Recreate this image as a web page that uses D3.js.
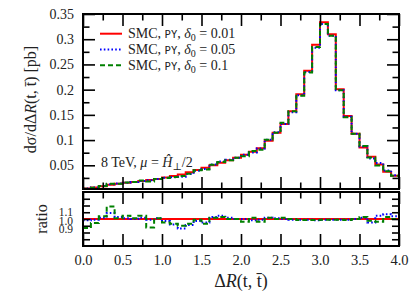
<!DOCTYPE html>
<html>
<head>
<meta charset="utf-8">
<script src="https://cdn.jsdelivr.net/npm/d3@7"></script>
<style>
  body { margin: 0; background: #fff; }
  text { font-family: "Liberation Serif", "DejaVu Serif", serif; fill: #222; }
</style>
</head>
<body>
<div id="chart"></div>
<script>
// bin edges 0.0 .. 4.0, width 0.1
var binLow = d3.range(40).map(function(i) { return i / 10; });

// SMC, PY, delta0 = 0.01 (reference) [pb]
var smc001 = [0.004, 0.006, 0.0087, 0.0113, 0.0133, 0.0153, 0.0167, 0.0187, 0.0206, 0.0226,
              0.026, 0.0286, 0.032, 0.036, 0.0405, 0.045, 0.050, 0.055, 0.060, 0.065,
              0.071, 0.077, 0.084, 0.0986, 0.1145, 0.1317, 0.157, 0.191, 0.2375, 0.289,
              0.3335, 0.310, 0.2006, 0.1476, 0.1125, 0.0855, 0.0669, 0.0518, 0.0371, 0.0292];

// ratios to delta0 = 0.01
var ratio005 = [0.98, 0.99, 1.02, 1.09, 1.03, 1.01, 1.00, 1.02, 0.99, 1.01,
                0.97, 0.92, 0.86, 0.91, 0.97, 0.95, 1.03, 1.05, 1.02, 1.00,
                1.00, 0.98, 0.99, 1.02, 1.01, 1.00, 0.99, 0.99, 0.99, 0.98,
                0.99, 0.99, 0.99, 0.99, 1.00, 1.02, 0.95, 1.05, 1.07, 1.04];
var ratio01 = [0.865, 0.94, 1.04, 1.185, 1.01, 1.05, 1.01, 1.05, 0.875, 1.01,
               0.95, 0.93, 0.90, 0.93, 0.99, 0.93, 1.02, 1.03, 1.00, 1.00,
               0.96, 1.02, 0.96, 1.02, 1.00, 1.02, 1.00, 0.985, 0.985, 0.985,
               0.99, 0.99, 0.99, 0.985, 1.00, 1.03, 0.975, 0.96, 1.03, 1.00];

var legendLabels = ["0.01", "0.05", "0.1"];
var colors = ["#ff0000", "#0000ff", "#008000"];
var dashes = [null, "1.6,2.2", "5,3"];

var xTickLabels = ["0.0", "0.5", "1.0", "1.5", "2.0", "2.5", "3.0", "3.5", "4.0"];
var yTickLabels = ["0.05", "0.1", "0.15", "0.2", "0.25", "0.3", "0.35"];
var rTickLabels = ["0.9", "1.0", "1.1"];

var W = 415, H = 303;
var left = 83, right = 399;
var mainTop = 14, mainBot = 189;
var ratTop = 192, ratBot = 246;

var series = [smc001, smc001.map(function(v, i) { return v * ratio005[i]; }),
              smc001.map(function(v, i) { return v * ratio01[i]; })];
var ratios = [binLow.map(function() { return 1; }), ratio005, ratio01];

var x = d3.scaleLinear().domain([0, 4]).range([left, right]);
var y = d3.scaleLinear().domain([0.003, 0.35]).range([mainBot, mainTop]);
var yr = d3.scaleLinear().domain([0.6, 1.4]).range([ratBot, ratTop]);
// tick labels of the ratio panel sit a little wider apart than the tick marks
var yrLab = d3.scaleLinear().domain([0.9, 1.1]).range([229.3, 212]);

var svg = d3.select("#chart").append("svg")
    .attr("width", W)
    .attr("height", H);

var defs = svg.append("defs");
defs.append("clipPath").attr("id", "clipMain")
  .append("rect").attr("x", left).attr("y", mainTop)
    .attr("width", right - left).attr("height", mainBot - mainTop);
defs.append("clipPath").attr("id", "clipRat")
  .append("rect").attr("x", left).attr("y", ratTop)
    .attr("width", right - left).attr("height", ratBot - ratTop);

function stepLine(vals, ys) {
  var pts = vals.map(function(v, i) { return [binLow[i], v]; });
  pts.push([4.0, vals[vals.length - 1]]);
  return d3.line()
    .x(function(d) { return x(d[0]); })
    .y(function(d) { return ys(d[1]); })
    .curve(d3.curveStepAfter)(pts);
}

// histograms
var gMain = svg.append("g").attr("clip-path", "url(#clipMain)");
series.forEach(function(s, k) {
  gMain.append("path")
    .attr("d", stepLine(s, y))
    .attr("fill", "none")
    .attr("stroke", colors[k])
    .attr("stroke-width", 2)
    .attr("stroke-dasharray", dashes[k]);
});

var gRat = svg.append("g").attr("clip-path", "url(#clipRat)");
ratios.forEach(function(s, k) {
  gRat.append("path")
    .attr("d", stepLine(s, yr))
    .attr("fill", "none")
    .attr("stroke", colors[k])
    .attr("stroke-width", 2)
    .attr("stroke-dasharray", dashes[k]);
});

// axes, ticks pointing inwards
var xMajor = d3.range(0, 4.01, 0.5), xMinor = d3.range(0.25, 4, 0.5);
var yMajor = d3.range(0.05, 0.351, 0.05), yMinor = d3.range(0.025, 0.35, 0.05);
var rTicks = d3.range(0.7, 1.31, 0.1);

function styleAxis(g) {
  g.select(".domain").remove();
  g.attr("font-family", null);
  g.selectAll(".tick line").attr("stroke", "#000").attr("stroke-width", 1.6);
  g.selectAll(".tick text").attr("fill", "#222");
}

function addX(top, bot, labels) {
  svg.append("g").attr("transform", "translate(0," + top + ")")
    .call(d3.axisTop(x).tickValues(xMajor).tickSize(-12).tickFormat("")).call(styleAxis);
  svg.append("g").attr("transform", "translate(0," + top + ")")
    .call(d3.axisTop(x).tickValues(xMinor).tickSize(-6.5).tickFormat("")).call(styleAxis);
  svg.append("g").attr("transform", "translate(0," + bot + ")")
    .call(d3.axisBottom(x).tickValues(xMajor).tickSize(-12).tickPadding(9)
      .tickFormat(function(d, i) { return labels ? xTickLabels[i] : ""; }))
    .call(styleAxis)
    .selectAll("text").attr("font-size", 14.5);
  svg.append("g").attr("transform", "translate(0," + bot + ")")
    .call(d3.axisBottom(x).tickValues(xMinor).tickSize(-6.5).tickFormat("")).call(styleAxis);
}
addX(mainTop, mainBot, false);
addX(ratTop, ratBot, true);

svg.append("g").attr("transform", "translate(" + left + ",0)")
  .call(d3.axisLeft(y).tickValues(yMajor).tickSize(-12).tickPadding(9)
    .tickFormat(function(d, i) { return yTickLabels[i]; }))
  .call(styleAxis)
  .selectAll("text").attr("font-size", 14);
svg.append("g").attr("transform", "translate(" + left + ",0)")
  .call(d3.axisLeft(y).tickValues(yMinor).tickSize(-6.5).tickFormat("")).call(styleAxis);
svg.append("g").attr("transform", "translate(" + right + ",0)")
  .call(d3.axisRight(y).tickValues(yMajor).tickSize(-12).tickFormat("")).call(styleAxis);
svg.append("g").attr("transform", "translate(" + right + ",0)")
  .call(d3.axisRight(y).tickValues(yMinor).tickSize(-6.5).tickFormat("")).call(styleAxis);

svg.append("g").attr("transform", "translate(" + left + ",0)")
  .call(d3.axisLeft(yr).tickValues(rTicks).tickSize(-7).tickFormat("")).call(styleAxis);
svg.append("g").attr("transform", "translate(" + right + ",0)")
  .call(d3.axisRight(yr).tickValues(rTicks).tickSize(-7).tickFormat("")).call(styleAxis);
svg.append("g").attr("transform", "translate(" + (left - 10) + ",0)")
  .call(d3.axisLeft(yrLab).tickValues([0.9, 1.0, 1.1]).tickSize(0).tickPadding(0)
    .tickFormat(function(d, i) { return rTickLabels[i]; }))
  .call(styleAxis)
  .selectAll("text").attr("font-size", 11.5);

// frames
[[mainTop, mainBot], [ratTop, ratBot]].forEach(function(p) {
  svg.append("rect")
    .attr("x", left).attr("y", p[0])
    .attr("width", right - left).attr("height", p[1] - p[0])
    .attr("fill", "none").attr("stroke", "#000").attr("stroke-width", 2);
});

// axis titles
var yt = svg.append("text")
    .attr("transform", "translate(36," + ((mainTop + mainBot) / 2 - 2) + ") rotate(-90)")
    .attr("text-anchor", "middle")
    .attr("font-size", 16);
yt.append("tspan").text("dσ/dΔ");
yt.append("tspan").attr("font-style", "italic").text("R");
yt.append("tspan").text("(t, t\u0304) [pb]");

svg.append("text")
    .attr("transform", "translate(47," + ((ratTop + ratBot) / 2) + ") rotate(-90)")
    .attr("text-anchor", "middle")
    .attr("font-size", 16)
    .text("ratio");

var xt = svg.append("text")
    .attr("x", (left + right) / 2).attr("y", 287)
    .attr("text-anchor", "middle")
    .attr("font-size", 18);
xt.append("tspan").text("Δ");
xt.append("tspan").attr("font-style", "italic").text("R");
xt.append("tspan").text("(t, t\u0304)");

// legend
legendLabels.forEach(function(lab, k) {
  var ly = 33.7 + k * 15.8;
  svg.append("line")
    .attr("x1", 100).attr("x2", 122).attr("y1", ly).attr("y2", ly)
    .attr("stroke", colors[k]).attr("stroke-width", 2)
    .attr("stroke-dasharray", dashes[k]);
  var t = svg.append("text").attr("x", 128).attr("y", ly + 4.5).attr("font-size", 14);
  t.append("tspan").text("SMC, ");
  t.append("tspan").style("font-family", "'DejaVu Sans Mono', monospace").attr("font-size", 10.5).text("PY");
  t.append("tspan").text(", ");
  t.append("tspan").attr("font-style", "italic").text("δ");
  t.append("tspan").attr("font-size", 10).attr("dy", 3).text("0");
  t.append("tspan").attr("dy", -3).text(" = " + lab);
});

// annotation
var ann = svg.append("text").attr("x", 101).attr("y", 167).attr("font-size", 14);
ann.append("tspan").text("8 TeV, ");
ann.append("tspan").attr("font-style", "italic").text("μ");
ann.append("tspan").text(" = ");
ann.append("tspan").attr("font-style", "italic").text("Ĥ");
ann.append("tspan").attr("font-size", 10).attr("dy", 3).text("⊥");
ann.append("tspan").attr("dy", -3).text("/2");
</script>
</body>
</html>
